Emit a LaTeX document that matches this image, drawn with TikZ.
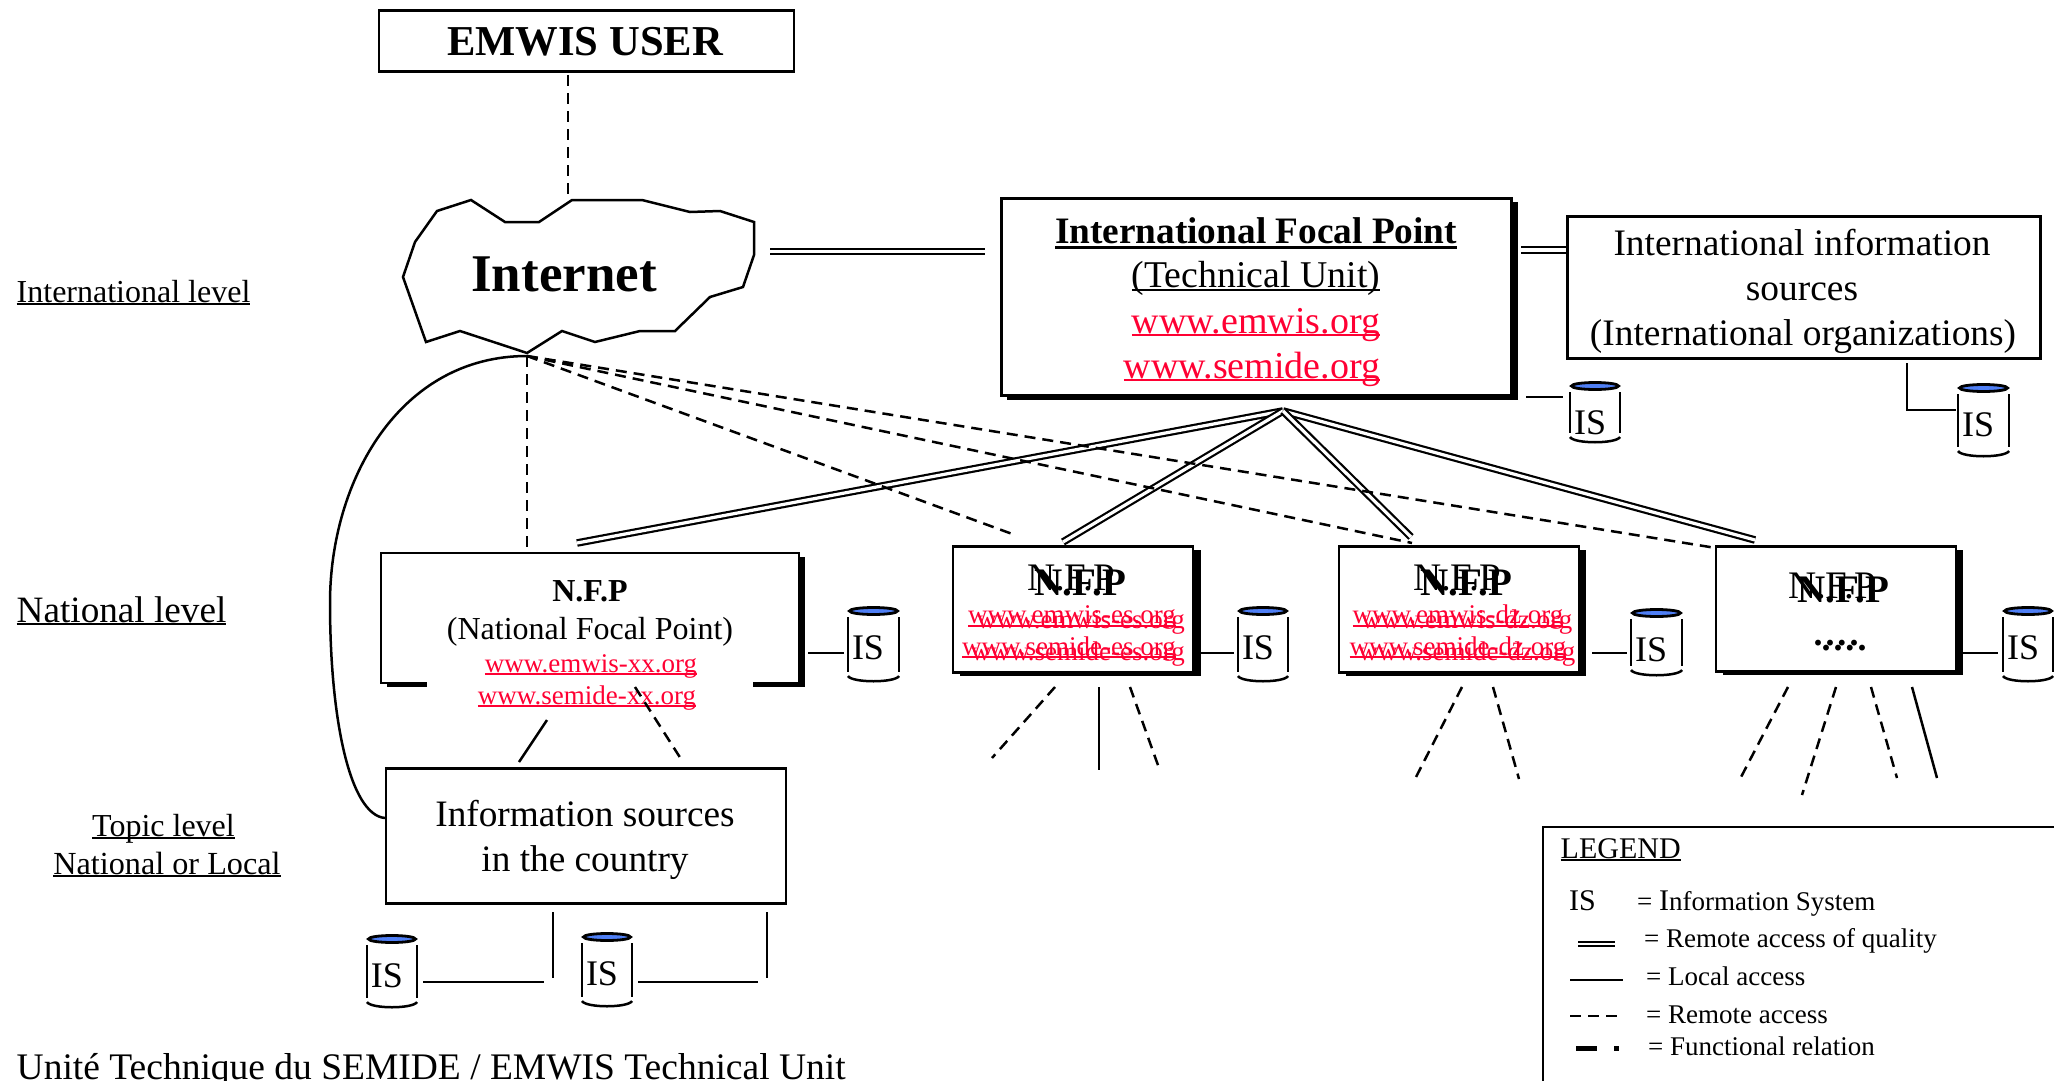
\documentclass[tikz,border=0pt]{standalone}
\usepackage{fontspec}
\usetikzlibrary{shapes.geometric}
\setmainfont{Liberation Serif}
\definecolor{urlred}{HTML}{FF0033}
\definecolor{isblue}{HTML}{4F7FF5}
\newcommand\pxf[1]{\fontsize{#1pt}{#1pt}\selectfont}
\newcommand\ulin[3]{\setbox0=\hbox{#3}\rlap{\rule[-#1pt]{\wd0}{#2pt}}\box0}
\tikzset{
  lw/.style={line width=2.5pt},
  boxnode/.style={draw=black,fill=white,line width=2.8pt,inner sep=0pt,anchor=north west},
  txt/.style={inner sep=0pt,anchor=base,text=black},
  url/.style={inner sep=0pt,anchor=base,text=urlred},
  solidc/.style={line width=2.5pt},
  dashc/.style={line width=2.5pt,dash pattern=on 11pt off 7pt},
  dblc/.style={line width=2.2pt,double=white,double distance=3.2pt},
  shadowfill/.style={fill=black,draw=none}
}
\newcommand\cyl[5]{% name, xl, xr, top, bottom
  \pgfmathsetmacro\cxm{(#2+#3)/2}
  \pgfmathsetmacro\stop{#4+6}
  \pgfmathsetmacro\sbot{#5-10}
  \pgfmathsetmacro\barc{#5-6}
  \pgfmathsetmacro\bctl{#5+1}
  \pgfmathsetmacro\xa{#2+4}
  \pgfmathsetmacro\xb{#3-4}
  \pgfmathsetmacro\tx{#2+20}
  \pgfmathsetmacro\ty{#4+48}
  \pgfmathsetmacro\ew{#3-#2-3}
  \node[ellipse,draw=black,fill=isblue,line width=2.8pt,inner sep=0pt,minimum width=\ew pt,minimum height=7pt] (#1) at (\cxm,#4) {};
  \draw[lw] (#2,\stop) -- (#2,\sbot);
  \draw[lw] (#3,\stop) -- (#3,\sbot);
  \draw[lw] (#2,\barc) .. controls (\xa,\bctl) and (\xb,\bctl) .. (#3,\barc);
  \node[txt] (#1t) at (\tx,\ty) {\pxf{36}IS};
}
\begin{document}
\begin{tikzpicture}[x=1pt,y=-1pt]
\clip (0,0) rectangle (2054,1081);
\fill[white] (0,0) rectangle (2054,1081);

% level labels
\node[txt,anchor=base west] (lvlint) at (16.5,302) {\pxf{32}\ulin{3}{1.8}{International level}};
\node[txt,anchor=base west] (lvlnat) at (16.5,622) {\pxf{37.2}\ulin{3}{1.8}{National level}};
\node[txt] (lvltop) at (163.5,836) {\pxf{32}\ulin{3}{1.8}{Topic level}};
\node[txt] (lvlloc) at (167,874) {\pxf{32.2}\ulin{3}{1.8}{National or Local}};
\node[txt,anchor=base west] (foot) at (16.5,1079) {\pxf{37.5}Unité Technique du SEMIDE / EMWIS Technical Unit};

% user box
\node[boxnode,minimum width=415pt,minimum height=61pt] (user) at (377.5,9.5) {};
\node[txt] (usert) at (585,56) {\pxf{42.6}\bfseries EMWIS USER};

% internet cloud
\draw[lw,fill=white,line join=miter] (572,200) -- (642,200) -- (690,212) -- (720,211) -- (754,222) -- (754,255) -- (743,287) -- (710,297) -- (675,331) -- (640,331) -- (595,342) -- (562,331) -- (527,353) -- (460,331) -- (426,342) -- (403,277) -- (415,242) -- (437,211) -- (471,200) -- (505,222) -- (539,222) -- cycle;
\node[txt] (internet) at (564,291) {\pxf{53}\bfseries Internet};

% international focal point
\fill[shadowfill] (1007,202) rectangle (1518,400);
\node[boxnode,minimum width=510pt,minimum height=197pt] (ifp) at (1000,197) {};
\node[txt] (ifp1) at (1256,243) {\pxf{37.3}\bfseries\ulin{6}{3.5}{International Focal Point}};
\node[txt] (ifp2) at (1256,287) {\pxf{37.8}\ulin{4}{1.8}{(Technical Unit)}};
\node[url] (ifp3) at (1256,333) {\pxf{38}\ulin{3}{1.8}{www.emwis.org}};
\node[url] (ifp4) at (1252,378) {\pxf{38}\ulin{3}{1.8}{www.semide.org}};

% international sources
\node[boxnode,minimum width=473pt,minimum height=142pt] (intl) at (1566,215) {};
\node[txt] (intl1) at (1802,255) {\pxf{37.4}International information};
\node[txt] (intl2) at (1802,300) {\pxf{37.4}sources};
\node[txt] (intl3) at (1803,345) {\pxf{37.4}(International organizations)};

% national focal point
\fill[shadowfill] (387,557) rectangle (805,687);
\node[boxnode,minimum width=418pt,minimum height=130pt] (nfpa) at (379.5,551.5) {};
\fill[white] (427,670) rectangle (753,700);
\node[txt] (nfpa1) at (590,601) {\pxf{32}\bfseries N.F.P};
\node[txt] (nfpa2) at (590,639) {\pxf{32}(National Focal Point)};
\node[url] (nfpa3) at (591,672) {\pxf{27}\ulin{2.5}{1.8}{www.emwis-xx.org}};
\node[url] (nfpa4) at (587,704) {\pxf{27}\ulin{2.5}{1.8}{www.semide-xx.org}};

% spanish NFP
\fill[shadowfill] (959.5,550) rectangle (1200.5,676);
\node[boxnode,minimum width=240pt,minimum height=126pt] (nfpb) at (951.5,545) {};
\node[txt] (nfpb1) at (1071,590) {\pxf{39}N.F.P};
\node[txt] (nfpb2) at (1080,595) {\pxf{39}\bfseries N.F.P};
\node[url] (nfpb3) at (1072,623) {\pxf{27}\ulin{4}{1.8}{www.emwis-es.org}};
\node[url] (nfpb4) at (1081,628) {\pxf{27}www.emwis-es.org};
\node[url] (nfpb5) at (1069,655) {\pxf{27}\ulin{3}{1.8}{www.semide-es.org}};
\node[url] (nfpb6) at (1078,660) {\pxf{27}www.semide-es.org};

% algerian NFP
\fill[shadowfill] (1345.5,550) rectangle (1585.5,676);
\node[boxnode,minimum width=240pt,minimum height=126pt] (nfpc) at (1337.5,545) {};
\node[txt] (nfpc1) at (1457,590) {\pxf{39}N.F.P};
\node[txt] (nfpc2) at (1466,595) {\pxf{39}\bfseries N.F.P};
\node[url] (nfpc3) at (1458,623) {\pxf{27}\ulin{4}{1.8}{www.emwis-dz.org}};
\node[url] (nfpc4) at (1467,628) {\pxf{27}www.emwis-dz.org};
\node[url] (nfpc5) at (1458,655) {\pxf{27}\ulin{3}{1.8}{www.semide-dz.org}};
\node[url] (nfpc6) at (1467,660) {\pxf{27}www.semide-dz.org};

% other NFP
\fill[shadowfill] (1722.5,550) rectangle (1963,675);
\node[boxnode,minimum width=240pt,minimum height=125pt] (nfpd) at (1714.5,545) {};
\node[txt] (nfpd1) at (1832,598) {\pxf{39}N.F.P};
\node[txt] (nfpd2) at (1843,602) {\pxf{39}\bfseries N.F.P};
\node[txt] (nfpd3) at (1836,645) {\pxf{36}\bfseries .\kern3pt.\kern3pt.\kern3pt.};
\node[txt] (nfpd4) at (1844,650) {\pxf{36}\bfseries .\kern3pt.\kern3pt.\kern3pt.};

% information sources in the country
\node[boxnode,minimum width=400pt,minimum height=135pt] (info) at (384.5,767) {};
\node[txt] (info1) at (585,826) {\pxf{37.3}Information sources};
\node[txt] (info2) at (585,871) {\pxf{37.3}in the country};

% cylinders
\cyl{isa}{1570}{1620}{386}{443}
\cyl{isb}{1958}{2009}{388}{457}
\cyl{isc}{848}{899}{611}{682}
\cyl{isd}{1238}{1288}{611}{682}
\cyl{ise}{1631}{1682}{613}{676}
\cyl{isf}{2003}{2053}{611}{682}
\cyl{isg}{367}{417}{939}{1008}
\cyl{ish}{582}{632}{937}{1007}

% named connector ends
\coordinate (apexnet) at (527,356);
\coordinate (apexifp) at (1283,411);
\coordinate (userdn) at (568,75);
\coordinate (netup) at (568,200);
\coordinate (neta) at (770,251.5);
\coordinate (ifpa) at (985,251.5);
\coordinate (ifpb) at (1521,250);
\coordinate (intla) at (1566,250);
\coordinate (da) at (577,543);
\coordinate (db) at (1063,542);
\coordinate (dc) at (1411,537);
\coordinate (dd) at (1755,540);
\coordinate (ra) at (527,550);
\coordinate (rb) at (1015,535);
\coordinate (rc) at (1412,543);
\coordinate (rd) at (1716,548);
\coordinate (infol) at (385,818);

% double connectors
\draw[dblc] (neta) -- (ifpa);
\draw[dblc] (ifpb) -- (intla);
\draw[dblc] (apexifp) -- (da);
\draw[dblc] (apexifp) -- (dd);
\draw[dblc] (apexifp) -- (db);
\draw[dblc] (apexifp) -- (dc);

% remote access connectors
\draw[dashc] (userdn) -- (netup);
\draw[dashc] (apexnet) -- (ra);
\draw[dashc] (apexnet) -- (rb);
\draw[dashc] (apexnet) -- (rc);
\draw[dashc] (apexnet) -- (rd);

% functional curve
\draw[lw] (apexnet) .. controls (400,356) and (330,480) .. (330,603) .. controls (330,720) and (350,815) .. (infol);

% local connectors to IS
\coordinate (la1) at (1526,397); \coordinate (la2) at (1563,397);
\draw[solidc] (la1) -- (la2);
\coordinate (lb1) at (1907,363); \coordinate (lb2) at (1907,410); \coordinate (lb3) at (1956,410);
\draw[solidc] (lb1) -- (lb2) -- (lb3);
\coordinate (lc1) at (808,653); \coordinate (lc2) at (844,653);
\draw[solidc] (lc1) -- (lc2);
\coordinate (ld1) at (1201,653); \coordinate (ld2) at (1234,653);
\draw[solidc] (ld1) -- (ld2);
\coordinate (le1) at (1592,653); \coordinate (le2) at (1627,653);
\draw[solidc] (le1) -- (le2);
\coordinate (lf1) at (1963,653); \coordinate (lf2) at (1998,653);
\draw[solidc] (lf1) -- (lf2);

% country links
\coordinate (ca1) at (547,720); \coordinate (ca2) at (519,762);
\draw[solidc] (ca1) -- (ca2);
\coordinate (cb1) at (635,687); \coordinate (cb2) at (681,759);
\draw[dashc] (cb1) -- (cb2);

% IS below country box
\coordinate (g1) at (423,982); \coordinate (g2) at (544,982);
\coordinate (g3) at (553,912); \coordinate (g4) at (553,978);
\draw[solidc] (g1) -- (g2);
\draw[solidc] (g3) -- (g4);
\coordinate (h1) at (638,982); \coordinate (h2) at (758,982);
\coordinate (h3) at (767,912); \coordinate (h4) at (767,978);
\draw[solidc] (h1) -- (h2);
\draw[solidc] (h3) -- (h4);

% stubs below NFPs
\coordinate (s1a) at (1055,687); \coordinate (s1b) at (992,758);
\draw[dashc] (s1a) -- (s1b);
\coordinate (s2a) at (1099,687); \coordinate (s2b) at (1099,770);
\draw[solidc] (s2a) -- (s2b);
\coordinate (s3a) at (1130,687); \coordinate (s3b) at (1159,768);
\draw[dashc] (s3a) -- (s3b);
\coordinate (s4a) at (1462,687); \coordinate (s4b) at (1415,779);
\draw[dashc] (s4a) -- (s4b);
\coordinate (s5a) at (1493,687); \coordinate (s5b) at (1519,779);
\draw[dashc] (s5a) -- (s5b);
\coordinate (s6a) at (1788,687); \coordinate (s6b) at (1740,779);
\draw[dashc] (s6a) -- (s6b);
\coordinate (s7a) at (1836,687); \coordinate (s7b) at (1802,795);
\draw[dashc] (s7a) -- (s7b);
\coordinate (s8a) at (1871,687); \coordinate (s8b) at (1897,778);
\draw[dashc] (s8a) -- (s8b);
\coordinate (s9a) at (1912,687); \coordinate (s9b) at (1937,778);
\draw[solidc] (s9a) -- (s9b);

% legend
\node[boxnode,minimum width=540pt,minimum height=300pt] (legend) at (1541.5,825.5) {};
\node[txt,anchor=base west] (legt) at (1560.5,858) {\pxf{30}\ulin{3}{1.8}{LEGEND}};
\node[txt,anchor=base west] (leg1a) at (1569,910) {\pxf{30}IS};
\node[txt,anchor=base west] (leg1b) at (1637,910) {\pxf{27}= {\pxf{30}I}nformation System};
\node[txt,anchor=base west] (leg2) at (1644,947) {\pxf{27}= Remote access of quality};
\node[txt,anchor=base west] (leg3) at (1646,985) {\pxf{27}= Local access};
\node[txt,anchor=base west] (leg4) at (1646,1023) {\pxf{27}= Remote access};
\node[txt,anchor=base west] (leg5) at (1648,1055) {\pxf{27}= Functional relation};
\coordinate (k1a) at (1578,944); \coordinate (k1b) at (1615,944);
\draw[line width=2.2pt,double=white,double distance=2pt] (k1a) -- (k1b);
\coordinate (k2a) at (1570,980); \coordinate (k2b) at (1623,980);
\draw[solidc] (k2a) -- (k2b);
\coordinate (k3a) at (1570,1016); \coordinate (k3b) at (1618,1016);
\draw[dashc] (k3a) -- (k3b);
\coordinate (k4a) at (1576,1048); \coordinate (k4b) at (1619,1048);
\draw[line width=5pt,dash pattern=on 21pt off 17pt on 5pt off 30pt] (k4a) -- (k4b);
\end{tikzpicture}
\end{document}
